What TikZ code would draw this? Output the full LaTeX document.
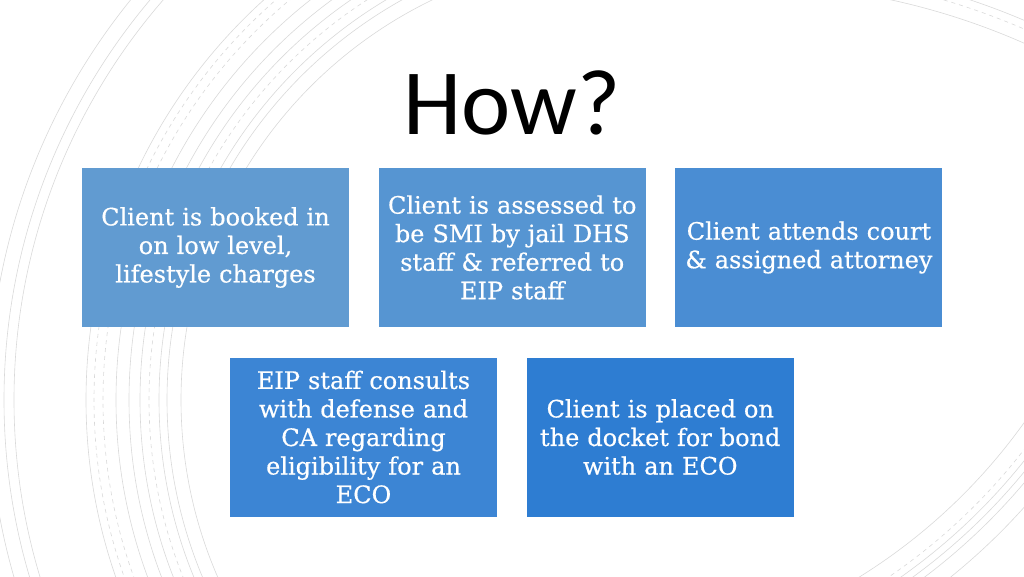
\documentclass[tikz,border=0pt]{standalone}
\usepackage{fontspec}
\setmainfont{DejaVu Serif}
\newfontfamily\boxfont{DejaVu Serif}[FakeBold=0.5]
\newfontfamily\titlefont{Carlito}
\usetikzlibrary{positioning}
\definecolor{stepA}{RGB}{97,155,209}
\definecolor{stepB}{RGB}{86,149,210}
\definecolor{stepC}{RGB}{74,141,211}
\definecolor{stepD}{RGB}{60,133,212}
\definecolor{stepE}{RGB}{46,125,210}
\tikzset{
  stage/.style  = {rectangle, minimum width=200.25pt, minimum height=119.25pt,
                   text width=192pt, inner sep=0pt, align=center, text=white,
                   font=\boxfont\fontsize{18}{21.4}\selectfont},
  title/.style  = {anchor=base, inner sep=0pt, font=\titlefont\fontsize{70}{84}\selectfont},
  ring/.style   = {draw=black!15, line width=0.45pt},
  ringdash/.style = {ring, dashed},
}

\begin{document}
\begin{tikzpicture}[x=0.75pt, y=0.75pt, node distance=21.9pt]
  \useasboundingbox (0,0) rectangle (1024,576);

  % thin rings behind the slide
  \begin{scope}
    \clip (0,0) rectangle (1024,576);
    \draw[ring]     (625,176) ++(90:636) arc[start angle=90, end angle=270, radius=636];
    \draw[ring]     (625,176) ++(90:621) arc[start angle=90, end angle=270, radius=621];
    \draw[ring]     (625,176) ++(90:611) arc[start angle=90, end angle=270, radius=611];
    \draw[ring]     (625,176) ++(90:539) arc[start angle=90, end angle=270, radius=539];
    \draw[ringdash] (625,176) ++(90:531) arc[start angle=90, end angle=270, radius=531];
    \draw[ringdash] (625,176) ++(90:522) arc[start angle=90, end angle=270, radius=522];
    \draw[ring]     (625,176) ++(90:509) arc[start angle=90, end angle=270, radius=509];
    \draw[ring]     (625,176) ++(90:496) arc[start angle=90, end angle=270, radius=496];
    \draw[ring]     (625,176) ++(90:485) arc[start angle=90, end angle=270, radius=485];
    \draw[ringdash] (625,176) ++(90:476) arc[start angle=90, end angle=270, radius=476];
    \draw[ring]     (625,176) ++(90:466) arc[start angle=90, end angle=270, radius=466];
    \draw[ring]     (625,176) ++(90:458) arc[start angle=90, end angle=270, radius=458];
    \draw[ring]     (625,176) ++(90:444) arc[start angle=90, end angle=270, radius=444];

    \draw[ring]     (743,-105) ++(30:697) arc[start angle=30, end angle=90, radius=697];
    \draw[ringdash] (743,-105) ++(30:710) arc[start angle=30, end angle=90, radius=710];
    \draw[ring]     (743,-105) ++(30:718) arc[start angle=30, end angle=90, radius=718];

    \draw[ring]     (557,487) ++(0:574) arc[start angle=0, end angle=-90, radius=574];
    \draw[ringdash] (557,487) ++(0:590) arc[start angle=0, end angle=-90, radius=590];
    \draw[ring]     (557,487) ++(0:597) arc[start angle=0, end angle=-90, radius=597];
    \draw[ring]     (557,487) ++(0:604) arc[start angle=0, end angle=-90, radius=604];
    \draw[ring]     (557,487) ++(0:611) arc[start angle=0, end angle=-90, radius=611];
    \draw[ring]     (557,487) ++(0:627) arc[start angle=0, end angle=-90, radius=627];
  \end{scope}

  \node[title] (how) at (512,441) {How?};

  \node[stage, fill=stepA] (booked) at (215.5,328.5)
    {Client is booked in\\ on low level,\\ lifestyle charges};
  \node[stage, fill=stepB, right=of booked] (assessed)
    {Client is assessed to\\ be SMI by jail DHS\\ staff \& referred to\\ EIP staff};
  \node[stage, fill=stepC, right=of assessed] (court)
    {Client attends court\\ \& assigned attorney};

  \node[stage, fill=stepD, below=22.5pt of booked, xshift=111pt] (consult)
    {EIP staff consults\\ with defense and\\ CA regarding\\ eligibility for an\\ ECO};
  \node[stage, fill=stepE, right=of consult] (docket)
    {Client is placed on\\ the docket for bond\\ with an ECO};
\end{tikzpicture}
\end{document}
